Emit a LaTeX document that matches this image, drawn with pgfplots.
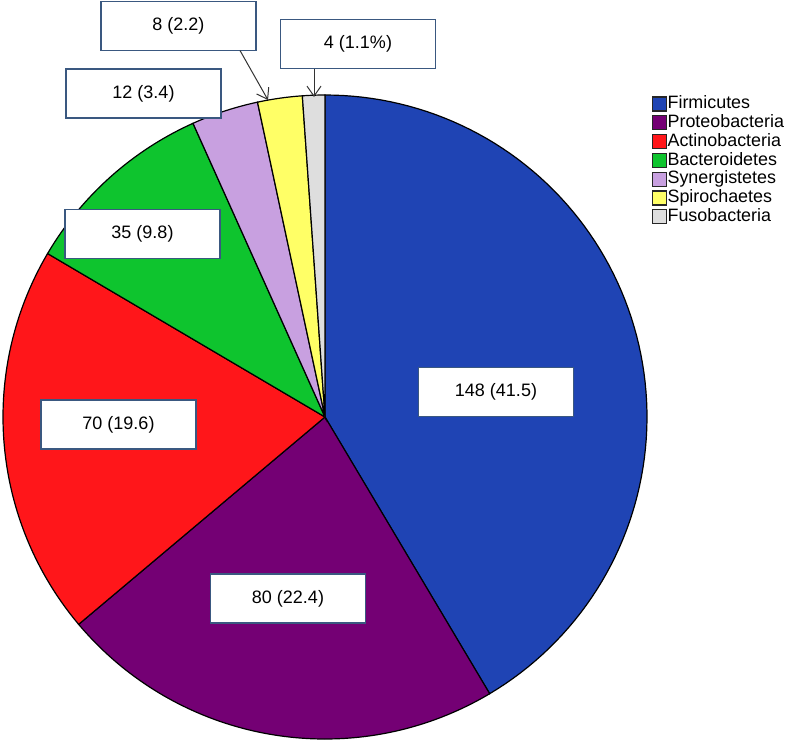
\documentclass[border=0pt]{standalone}
\usepackage{pgfplots}
\pgfplotsset{compat=1.18}
\usepackage{fontspec}
\setmainfont{Liberation Sans}
\usetikzlibrary{arrows.meta}

\definecolor{cFirm}{RGB}{31,68,180}
\definecolor{cProt}{RGB}{116,0,116}
\definecolor{cActi}{RGB}{255,22,26}
\definecolor{cBact}{RGB}{14,196,46}
\definecolor{cSyne}{RGB}{200,160,224}
\definecolor{cSpir}{RGB}{255,255,102}
\definecolor{cFuso}{RGB}{222,222,222}
\definecolor{boxborder}{RGB}{58,88,128}

% total of all counts
\def\total{357}
% #1 = counts before this slice, #2 = count, #3 = colour
\newcommand\slice[3]{%
  \pgfmathsetmacro\angA{90-(#1)/\total*360}%
  \pgfmathsetmacro\angB{90-(#1+#2)/\total*360}%
  \edef\doslice{\noexpand\addplot[draw=black, line width=0.6pt, fill=#3,
     domain=\angB:\angA, samples=90, variable=\noexpand\t]
     ({325+322*cos(\noexpand\t)},{417-322*sin(\noexpand\t)}) -- (axis cs:325,417) -- cycle;}%
  \doslice
}

\begin{document}
\begin{tikzpicture}[
  lbl/.style={draw=boxborder, line width=0.6pt, fill=white, minimum width=77.5pt,
    minimum height=24.5pt, inner sep=0pt, font=\fontsize{9}{10}\selectfont},
  arr/.style={draw=black!80, line width=0.5pt, -{Straight Barb[length=5pt,width=7pt]}}]
\begin{axis}[
  scale only axis, width=393.5pt, height=372pt,
  xmin=0, xmax=787, ymin=0, ymax=744, y dir=reverse,
  axis line style={draw=none}, ticks=none, clip=false,
  legend image code/.code={\draw[#1, line width=0.6pt, draw=black!85] (0pt,-3.5pt) rectangle (7pt,3.5pt);},
  legend cell align=left,
  legend style={at={(axis cs:651.5,94.5)}, anchor=north west, draw=none, fill=none,
    inner sep=0pt, outer sep=0pt, row sep=0pt,
    font=\fontsize{8.95}{10}\selectfont,
    nodes={text height=6.6pt, text depth=1.9pt, inner sep=0.45pt, outer sep=0pt}},
]
\slice{0}{148}{cFirm}
\addlegendentry{Firmicutes}
\slice{148}{80}{cProt}
\addlegendentry{Proteobacteria}
\slice{228}{70}{cActi}
\addlegendentry{Actinobacteria}
\slice{298}{35}{cBact}
\addlegendentry{Bacteroidetes}
\slice{333}{12}{cSyne}
\addlegendentry{Synergistetes}
\slice{345}{8}{cSpir}
\addlegendentry{Spirochaetes}
\slice{353}{4}{cFuso}
\addlegendentry{Fusobacteria}

\node[lbl] at (axis cs:496,392) {148 (41.5)};
\node[lbl] at (axis cs:288,598.5) {80 (22.4)};
\node[lbl] at (axis cs:118.5,424.5) {70 (19.6)};
\node[lbl] at (axis cs:142.5,234) {35 (9.8)};
\node[lbl] at (axis cs:143.5,93.5) {12 (3.4)};
\node[lbl] at (axis cs:178.5,26) {8 (2.2)};
\node[lbl] at (axis cs:358,44) {4 (1.1\%)};

\draw[arr] (axis cs:240,50.5) -- (axis cs:268,100);
\draw[arr] (axis cs:314,68.5) -- (axis cs:314,97);
\end{axis}
\end{tikzpicture}
\end{document}
